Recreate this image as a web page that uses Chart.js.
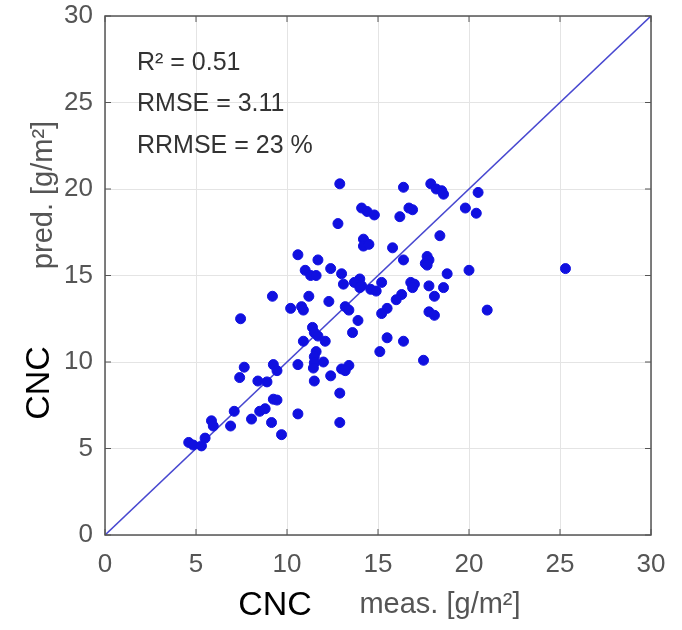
<!DOCTYPE html>
<html>
<head>
<meta charset="utf-8">
<script src="https://cdn.jsdelivr.net/npm/chart.js@4"></script>
<style>
  html, body { margin: 0; padding: 0; background: #fff; }
  canvas { display: block; }
</style>
</head>
<body>
<canvas id="myChart" width="682" height="630"></canvas>
<script>
// measured vs predicted CNC [g/m2]
var measured = [
  12.9, 16.4, 17.9, 18.2, 18.5, 18.6, 20.5, 14.1, 14.4, 14.8,
  16.7, 16.9, 16.2, 19.8, 20.4, 12.8, 18.4, 14.2, 14.3, 14.2,
  14.5, 15.8, 10.6, 11.7, 16.4, 17.7, 17.8, 17.6, 17.7, 12.4,
  11.0, 11.3, 11.6, 13.0, 13.1, 14.0, 13.7, 14.1, 15.2, 18.8,
  20.0, 21.0, 16.8, 17.0, 16.9, 17.8, 18.6, 18.1, 14.0, 14.6,
  14.9, 11.2, 12.3, 16.3, 16.0, 10.2, 10.8, 10.9, 13.2, 13.4,
  15.5, 15.2, 17.8, 18.1, 13.9, 11.4, 11.5, 11.7, 12.1, 10.9,
  13.6, 15.5, 16.4, 15.1, 11.6, 11.5, 11.5, 11.45, 12.0, 10.6,
  13.4, 13.0, 13.2, 17.5, 12.4, 11.5, 12.9, 12.9, 10.6, 9.7,
  4.6, 4.85, 5.3, 5.5, 5.85, 5.95, 6.9, 7.1, 7.65, 7.4,
  8.05, 8.4, 8.9, 9.25, 9.45, 8.5, 8.8, 9.25, 9.45, 9.15,
  9.2, 7.45, 25.3
];
var predicted = [
  20.3, 20.1, 20.3, 20.0, 19.9, 19.7, 19.8, 18.9, 18.7, 18.5,
  18.9, 18.8, 18.4, 18.9, 18.6, 18.0, 17.3, 17.1, 16.9, 16.7,
  16.8, 16.6, 16.2, 15.9, 15.9, 16.1, 15.9, 15.7, 15.6, 15.4,
  15.3, 15.0, 15.0, 15.1, 14.5, 14.8, 14.6, 14.4, 14.6, 15.1,
  15.3, 13.0, 14.6, 14.5, 14.3, 14.4, 14.3, 13.8, 14.3, 14.2,
  14.1, 13.8, 13.5, 13.9, 13.6, 13.1, 13.2, 13.0, 13.2, 13.0,
  13.1, 12.8, 12.9, 12.7, 12.4, 12.0, 11.7, 11.5, 11.2, 11.2,
  11.7, 11.4, 11.2, 10.6, 10.6, 10.3, 9.95, 9.65, 10.0, 9.85,
  9.8, 9.6, 9.5, 10.1, 9.2, 8.9, 8.2, 6.5, 7.0, 5.8,
  5.35, 5.2, 5.15, 5.6, 6.6, 6.3, 6.3, 7.15, 9.7, 9.1,
  6.7, 8.9, 8.85, 9.85, 9.5, 7.15, 7.3, 7.85, 7.8, 6.5,
  13.8, 12.5, 15.4
];
var axisTicks = [0, 5, 10, 15, 20, 25, 30];
var statLines = ['R\u00B2 = 0.51', 'RMSE = 3.11', 'RRMSE = 23 %'];

var points = measured.map(function (m, i) {
  return { x: m, y: predicted[i] };
});
var oneToOne = [
  { x: axisTicks[0], y: axisTicks[0] },
  { x: axisTicks[axisTicks.length - 1], y: axisTicks[axisTicks.length - 1] }
];

var narrow = '"Liberation Sans Narrow", "Arial Narrow", "Liberation Sans", Arial, sans-serif';
var tickFont = { family: narrow, size: 26 };

// frame, inner ticks and the texts (MATLAB-like look)
var decorPlugin = {
  id: 'decor',
  afterDraw: function (chart) {
    var c = chart.ctx;
    var a = chart.chartArea;
    var xs = chart.scales.x, ys = chart.scales.y;
    c.save();
    c.strokeStyle = '#555';
    c.lineWidth = 1.5;
    c.strokeRect(a.left, a.top, a.right - a.left, a.bottom - a.top);
    c.lineWidth = 1;
    axisTicks.forEach(function (t) {
      var px = xs.getPixelForValue(t), py = ys.getPixelForValue(t);
      c.beginPath();
      c.moveTo(px, a.bottom); c.lineTo(px, a.bottom - 6);
      c.moveTo(px, a.top); c.lineTo(px, a.top + 6);
      c.moveTo(a.left, py); c.lineTo(a.left + 6, py);
      c.moveTo(a.right, py); c.lineTo(a.right - 6, py);
      c.stroke();
    });

    c.fillStyle = '#333';
    c.font = '25px ' + narrow;
    c.textAlign = 'left';
    c.textBaseline = 'middle';
    statLines.forEach(function (s, i) {
      c.fillText(s, a.left + 32, ys.getPixelForValue(27.3) + i * 41.5);
    });

    // x axis titles
    c.textAlign = 'center';
    c.fillStyle = '#555';
    c.font = '29px ' + narrow;
    c.fillText('meas. [g/m\u00B2]', 440, 605);
    c.fillStyle = '#000';
    c.font = '34px ' + narrow;
    c.fillText('CNC', 275, 606);

    // y axis titles
    c.save();
    c.translate(44, 195);
    c.rotate(-Math.PI / 2);
    c.fillStyle = '#555';
    c.font = '29px ' + narrow;
    c.fillText('pred. [g/m\u00B2]', 0, 0);
    c.restore();
    c.save();
    c.translate(40, 383);
    c.rotate(-Math.PI / 2);
    c.fillStyle = '#000';
    c.font = '34px ' + narrow;
    c.fillText('CNC', 0, 0);
    c.restore();
    c.restore();
  }
};

var ctx = document.getElementById('myChart').getContext('2d');
var chart = new Chart(ctx, {
  type: 'scatter',
  data: {
    datasets: [{
      label: 'CNC',
      data: points,
      backgroundColor: '#1010e0',
      borderColor: '#1010e0',
      pointRadius: 5,
      pointHoverRadius: 5
    }, {
      type: 'line',
      label: '1:1',
      data: oneToOne,
      borderColor: '#4848d0',
      borderWidth: 1.6,
      pointRadius: 0,
      fill: false
    }]
  },
  options: {
    responsive: false,
    animation: false,
    layout: { padding: { left: 0, top: 16, right: 31, bottom: 0 } },
    plugins: { legend: { display: false }, tooltip: { enabled: false } },
    scales: {
      x: {
        type: 'linear',
        min: 0, max: 30,
        afterFit: function (s) {
          s.height = 95;
          s.paddingLeft = 0;
          s.paddingRight = 0;
        },
        afterBuildTicks: function (s) { s.ticks = axisTicks.map(function (v) { return { value: v }; }); },
        grid: { color: '#e4e4e4', drawTicks: false },
        border: { display: false },
        ticks: { color: '#555', font: tickFont, padding: 14, maxRotation: 0 }
      },
      y: {
        type: 'linear',
        min: 0, max: 30,
        afterFit: function (s) {
          s.width = 105;
          s.paddingTop = 0;
          s.paddingBottom = 0;
        },
        afterBuildTicks: function (s) { s.ticks = axisTicks.map(function (v) { return { value: v }; }); },
        grid: { color: '#e4e4e4', drawTicks: false },
        border: { display: false },
        ticks: { color: '#555', font: tickFont, padding: 12 }
      }
    }
  },
  plugins: [decorPlugin]
});
</script>
</body>
</html>
